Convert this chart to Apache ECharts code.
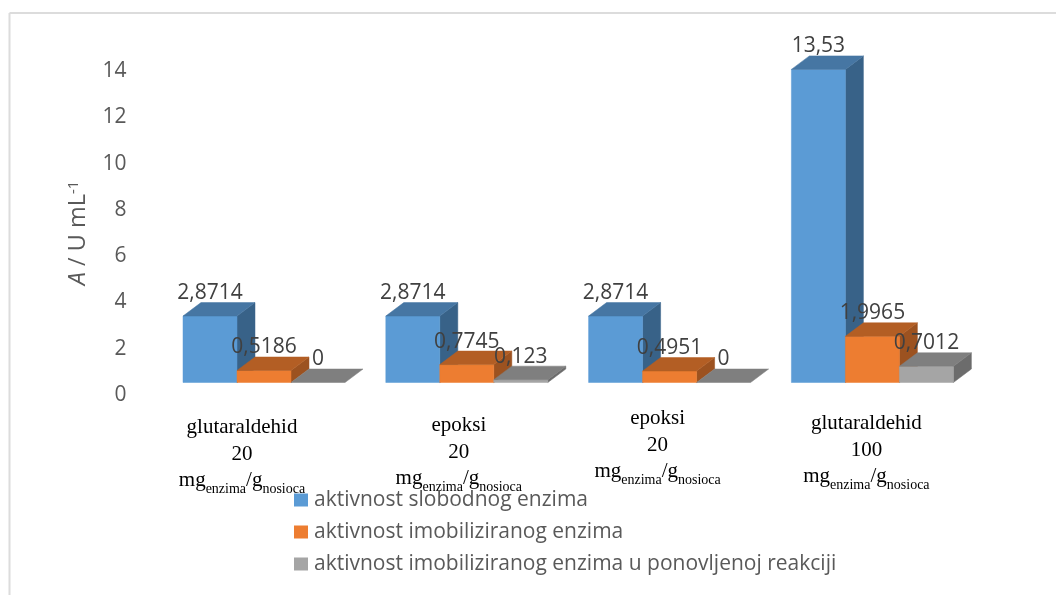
<!DOCTYPE html>
<html><head><meta charset="utf-8">
<style>html,body{margin:0;padding:0;background:#fff}#c{width:1056px;height:595px}</style>
<script src="https://cdn.jsdelivr.net/npm/echarts@6/dist/echarts.min.js"></script>
</head><body><div id="c"></div>
<script>
const carriers = ['glutaraldehid', 'epoksi', 'epoksi', 'glutaraldehid'];
const doses = ['20', '20', '20', '100'];
const slobodni = [2.8714, 2.8714, 2.8714, 13.53];
const imobilizirani = [0.5186, 0.7745, 0.4951, 1.9965];
const ponovljeni = [0, 0.123, 0, 0.7012];
const seriesNames = ['aktivnost slobodnog enzima', 'aktivnost imobiliziranog enzima', 'aktivnost imobiliziranog enzima u ponovljenoj reakciji'];
const yTicks = [0, 2, 4, 6, 8, 10, 12, 14];

// layout and style, kept apart from the data
const labelShift = [[22, 44], [20, 16], [13, 24], [18, 12]];
const palette = [
  {front: '#5B9BD5', top: '#4676A3', side: '#386288'},
  {front: '#ED7D31', top: '#B35E24', side: '#9C5220'},
  {front: '#A5A5A5', top: '#7F7F7F', side: '#6C6C6C'}
];
const BAR_SHARE = 54 / 202.8, DX = 18, DY = 13.5, FLOOR_LIFT = 12.5;

function fmt(v) { return String(v).replace('.', ','); }

function makeRender(idx) {
  return function (params, api) {
    const cat = api.value(0), val = api.value(1);
    const base = api.coord([cat, 0]);
    const tip = api.coord([cat, val]);
    const w = api.size([1, 0])[0] * BAR_SHARE;
    const x0 = base[0] - 1.5 * w + idx * w, x1 = x0 + w;
    const yb = base[1] - FLOOR_LIFT, yt = tip[1] - FLOOR_LIFT;
    const c = palette[idx];
    const poly = (pts, fill) => ({type: 'polygon', shape: {points: pts},
      style: {fill: fill, stroke: fill, lineWidth: 0.5}});
    const children = [];
    if (val > 0) {
      children.push(poly([[x1, yb], [x1 + DX, yb - DY], [x1 + DX, yt - DY], [x1, yt]], c.side));
      children.push(poly([[x0, yb], [x1, yb], [x1, yt], [x0, yt]], c.front));
    }
    children.push(poly([[x0, yt], [x1, yt], [x1 + DX, yt - DY], [x0 + DX, yt - DY]], c.top));
    children.push({type: 'text', z2: 100,
      style: {x: (x0 + x1) / 2, y: yt - 23, text: fmt(val), align: 'center', verticalAlign: 'middle',
        font: '21px "Open Sans"', fill: '#404040'}});
    return {type: 'group', children: children};
  };
}

const allValues = [slobodni, imobilizirani, ponovljeni];
const chart = echarts.init(document.getElementById('c'), null, {renderer: 'canvas'});
chart.setOption({
  animation: false,
  backgroundColor: '#fff',
  grid: {left: 162.6, right: 82.2, top: 71, bottom: 200, containLabel: false},
  xAxis: {
    type: 'category',
    data: carriers.map((c, i) => ({
      value: c + '\n' + doses[i],
      textStyle: {padding: [labelShift[i][0], labelShift[i][1], 0, 0]}
    })),
    axisLine: {show: false}, axisTick: {show: false}, splitLine: {show: false},
    axisLabel: {
      margin: 0, interval: 0, color: '#000', overflow: 'none',
      formatter: v => {
        const p = v.split('\n');
        return '{m|' + p[0] + '}\n{m|' + p[1] + '}\n{m|mg}{s|enzima}{m|/g}{s|nosioca}';
      },
      rich: {
        m: {fontFamily: 'Liberation Serif', fontSize: 21, lineHeight: 26.5, color: '#000', verticalAlign: 'top'},
        s: {fontFamily: 'Liberation Serif', fontSize: 14, lineHeight: 26.5, color: '#000', verticalAlign: 'bottom', padding: [4, 0, 0, 0]}
      }
    }
  },
  yAxis: {
    type: 'value', min: yTicks[0], max: yTicks[yTicks.length - 1], interval: 2,
    axisLine: {show: false}, axisTick: {show: false}, splitLine: {show: false},
    axisLabel: {margin: 36, color: '#595959', fontFamily: 'Open Sans', fontSize: 21},
    name: '{i|A}{n| / U mL}{u|-1}',
    nameLocation: 'middle', nameGap: 72, nameRotate: 90,
    nameTextStyle: {
      rich: {
        i: {fontFamily: 'Open Sans', fontSize: 23.5, fontStyle: 'italic', color: '#595959'},
        n: {fontFamily: 'Open Sans', fontSize: 23.5, color: '#595959'},
        u: {fontFamily: 'Open Sans', fontSize: 15, color: '#595959', verticalAlign: 'top'}
      }
    }
  },
  legend: {
    orient: 'vertical', left: 289, top: 481.5, itemWidth: 14, itemHeight: 13, itemGap: 5,
    icon: 'rect', selectedMode: false, z: 20,
    data: seriesNames,
    textStyle: {fontFamily: 'Open Sans', fontSize: 21, color: '#595959', padding: [0, 0, 0, 1], lineHeight: 27}
  },
  graphic: [
    {type: 'line', shape: {x1: 9.5, y1: 13, x2: 1056, y2: 13}, style: {stroke: '#dcdcdc', lineWidth: 2}, silent: true},
    {type: 'line', shape: {x1: 9.5, y1: 13, x2: 9.5, y2: 595}, style: {stroke: '#dcdcdc', lineWidth: 2}, silent: true}
  ],
  series: seriesNames.map((name, s) => ({
    name: name, type: 'custom', coordinateSystem: 'cartesian2d',
    itemStyle: {color: palette[s].front},
    encode: {x: 0, y: 1},
    renderItem: makeRender(s),
    data: allValues[s].map((v, i) => [i, v]),
    clip: false
  }))
});
</script></body></html>
